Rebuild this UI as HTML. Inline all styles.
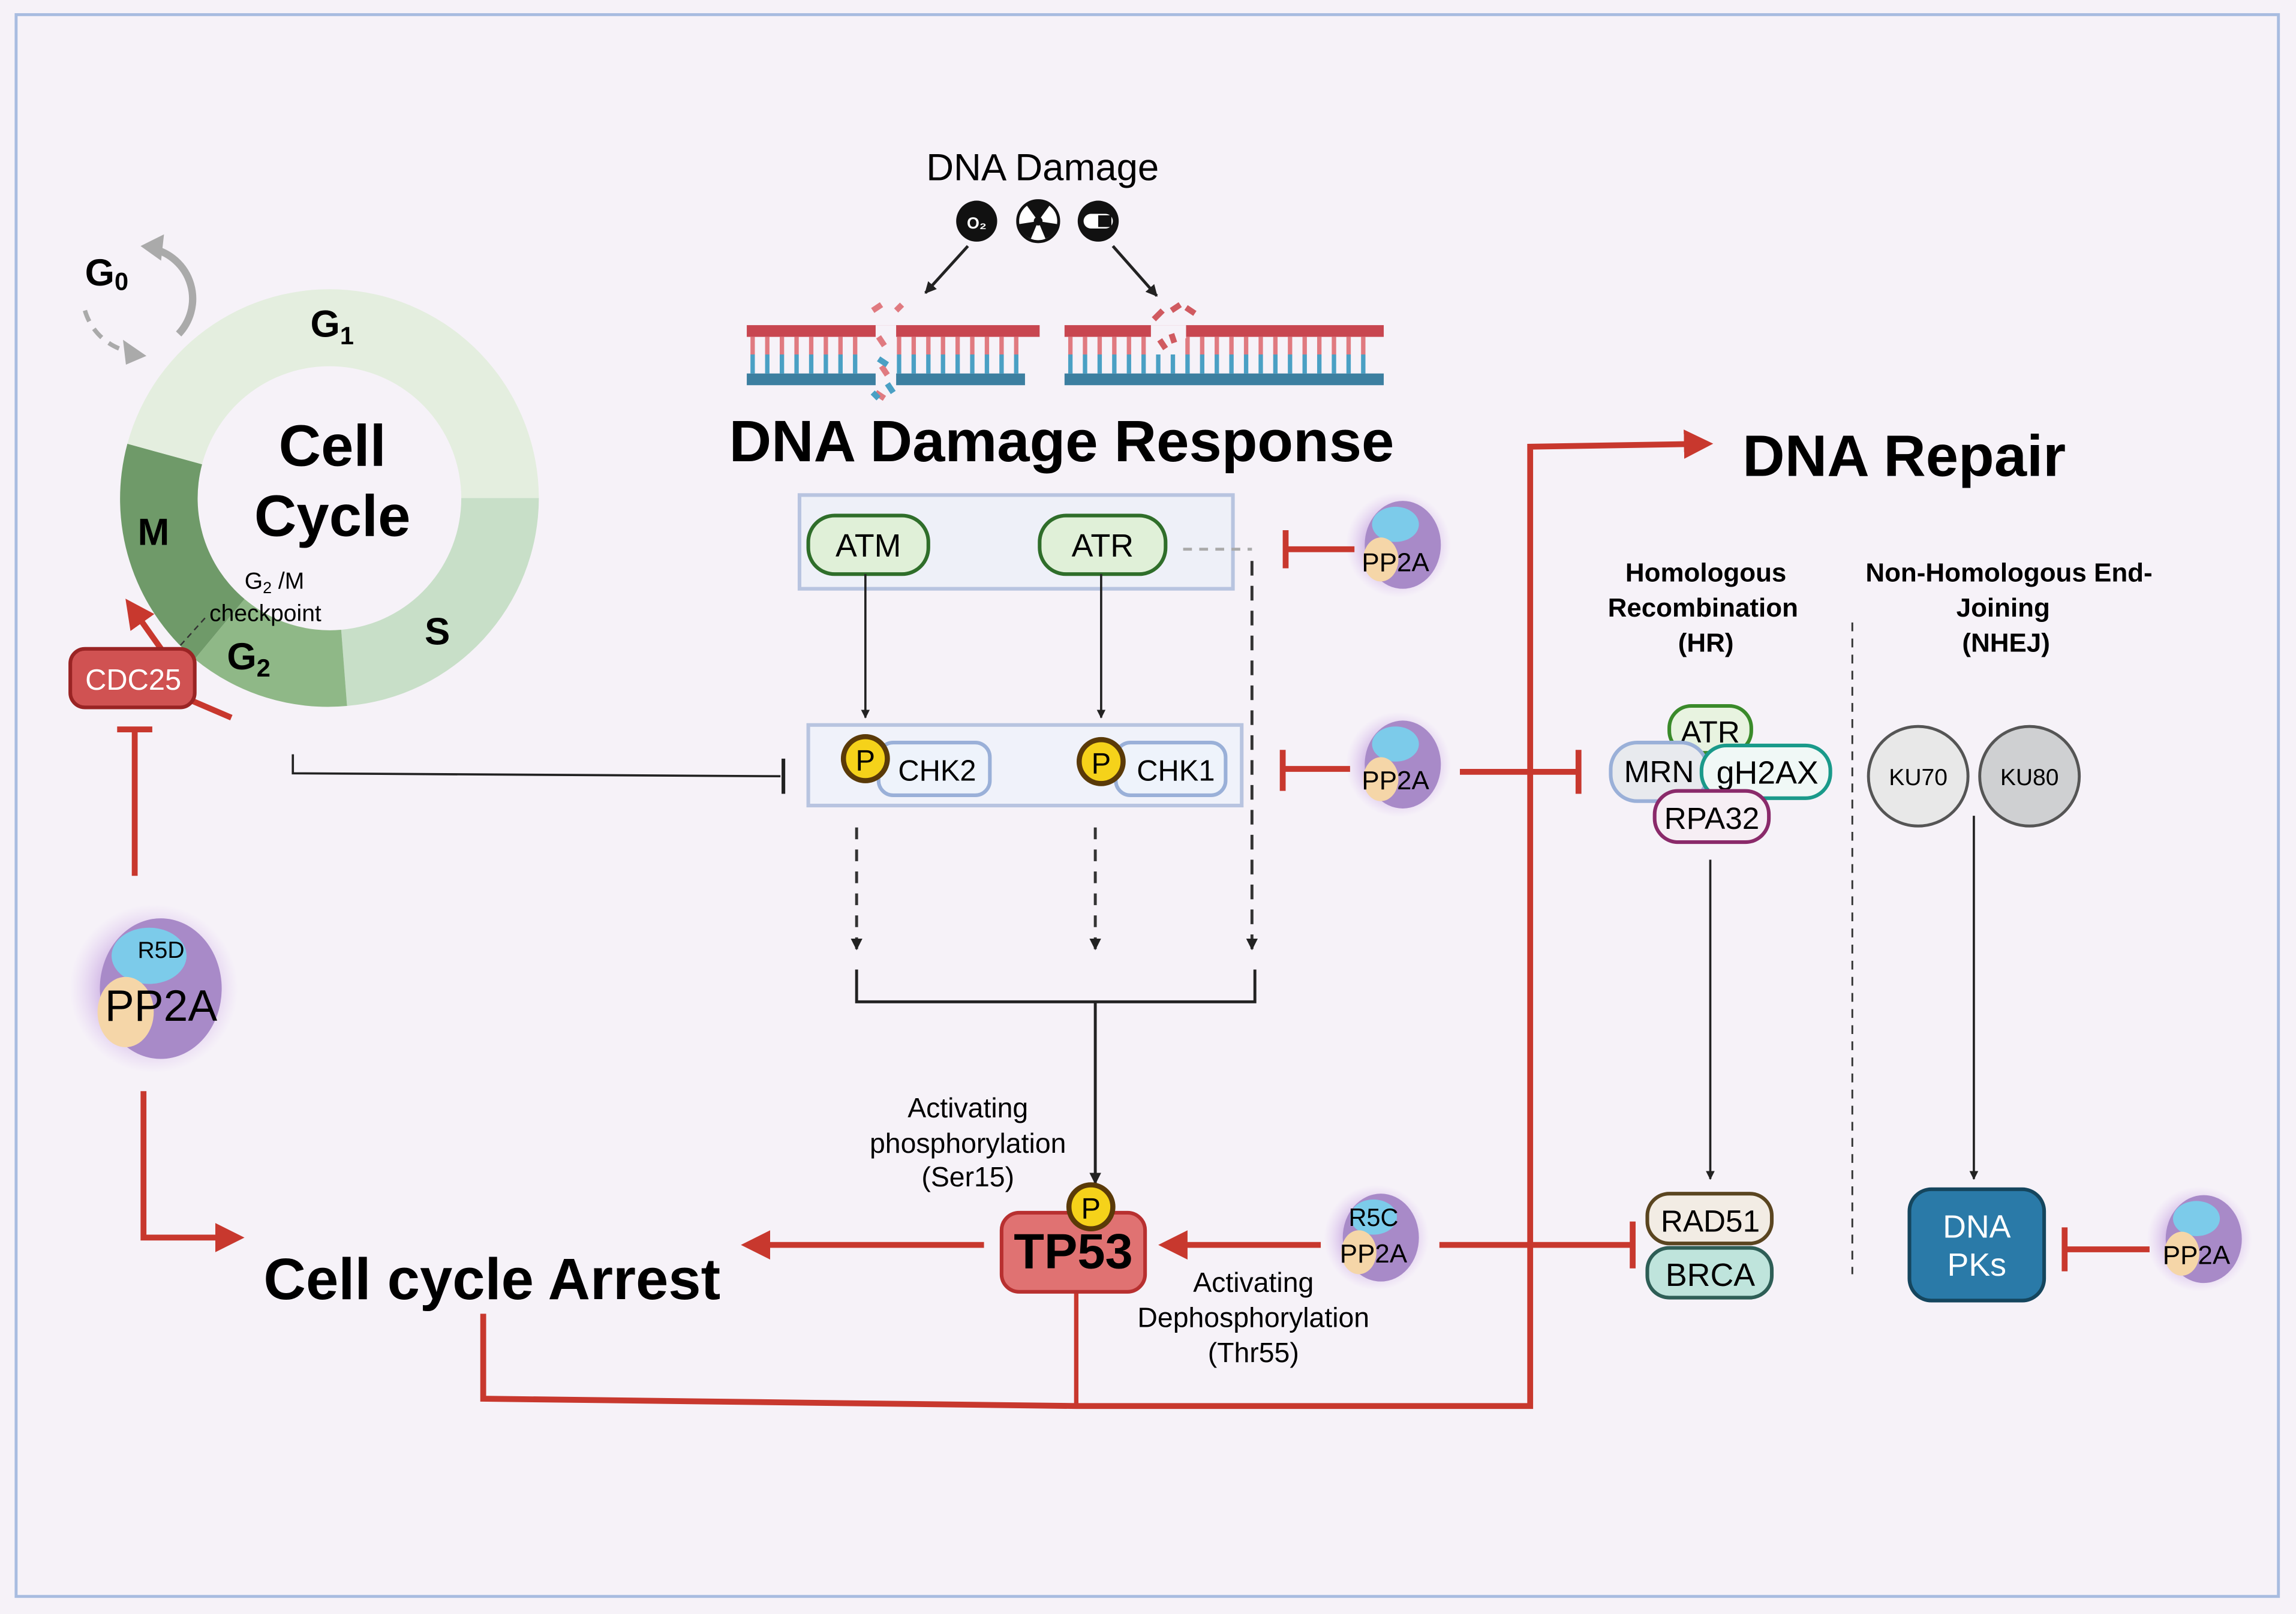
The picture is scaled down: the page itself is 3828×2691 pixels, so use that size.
<!DOCTYPE html>
<html><head><meta charset="utf-8"><style>
html,body{margin:0;padding:0;background:#f6f2f8;}
svg{display:block;}
text{font-family:"Liberation Sans",sans-serif;}
</style></head><body>
<svg xmlns="http://www.w3.org/2000/svg" width="3828" height="2691" viewBox="0 0 1568 1102" preserveAspectRatio="none">
<defs>
<radialGradient id="glow" cx="50%" cy="50%" r="50%">
<stop offset="0.6" stop-color="#b890d8" stop-opacity="0.6"/><stop offset="1" stop-color="#d8b8f0" stop-opacity="0"/></radialGradient>
<marker id="ab" viewBox="0 0 10 10" refX="9" refY="5" markerWidth="4" markerHeight="4" orient="auto"><path d="M0,0L10,5L0,10z" fill="#222"/></marker>
<marker id="ar" viewBox="0 0 10 10" refX="8" refY="5" markerWidth="5" markerHeight="5" orient="auto"><path d="M0,0L10,5L0,10z" fill="#c8382e"/></marker>
<g id="pp">
<circle cx="0" cy="0" r="36" fill="url(#glow)"/>
<ellipse cx="3" cy="0" rx="26" ry="30" fill="#a88ac8"/>
<ellipse cx="-2" cy="-14" rx="16" ry="12" fill="#7ccbea"/>
<ellipse cx="-12" cy="10" rx="12" ry="15" fill="#f5d6a8"/>
</g>
</defs>
<rect x="0" y="0" width="1568" height="1102" fill="#f6f2f8"/>
<rect x="11" y="10" width="1545" height="1080" fill="none" stroke="#a8bce0" stroke-width="2"/>

<path d="M368,340 A143,143 0 0 1 237,482 L233,430 A90,90 0 0 0 315,340 Z" fill="#c8dfc8"/>
<path d="M237,482 A143,143 0 0 1 133,450 L167,409 A90,90 0 0 0 233,430 Z" fill="#8fb887"/>
<path d="M133,450 A143,143 0 0 1 87,303 L138,317 A90,90 0 0 0 167,409 Z" fill="#6f9a69"/>
<path d="M87,303 A143,143 0 0 1 368,340 L315,340 A90,90 0 0 0 138,317 Z" fill="#e4eedf"/>
<text x="227" y="318" font-size="40" font-weight="bold" text-anchor="middle">Cell</text>
<text x="227" y="366" font-size="40" font-weight="bold" text-anchor="middle">Cycle</text>
<text x="212" y="230" font-size="26" font-weight="bold">G<tspan font-size="17" dy="5">1</tspan></text>
<text x="94" y="372" font-size="26" font-weight="bold">M</text>
<text x="290" y="440" font-size="26" font-weight="bold">S</text>
<text x="155" y="457" font-size="26" font-weight="bold">G<tspan font-size="17" dy="5">2</tspan></text>
<text x="58" y="195" font-size="26" font-weight="bold">G<tspan font-size="17" dy="3">0</tspan></text>
<text x="167" y="402" font-size="16">G<tspan font-size="11" dy="3">2</tspan><tspan dy="-3"> /M</tspan></text>
<text x="143" y="424" font-size="16">checkpoint</text>
<path d="M140,422 L122,442" stroke="#333" stroke-width="1" stroke-dasharray="4,3"/>
<path d="M105,170 A35,35 0 0 1 122,228" stroke="#aaa" stroke-width="5" fill="none"/>
<path d="M96,168 L112,160 L110,178 z" fill="#aaa"/>
<path d="M58,212 A40,40 0 0 0 88,240" stroke="#aaa" stroke-width="3" fill="none" stroke-dasharray="8,6"/>
<path d="M84,232 L100,243 L86,249 z" fill="#aaa"/>

<line x1="110" y1="443" x2="88" y2="412" stroke="#c8382e" stroke-width="4" marker-end="url(#ar)"/>
<line x1="130" y1="478" x2="158" y2="490" stroke="#c8382e" stroke-width="4"/>
<rect x="48" y="443" width="85" height="40" rx="10" fill="#d05252" stroke="#9a2424" stroke-width="2.5"/>
<text x="91" y="471" font-size="20" fill="#fff" text-anchor="middle">CDC25</text>
<line x1="92" y1="598" x2="92" y2="498" stroke="#c8382e" stroke-width="4"/>
<line x1="80" y1="498" x2="104" y2="498" stroke="#c8382e" stroke-width="4"/>

<g transform="translate(105,675) scale(1.6)"><use href="#pp"/></g>
<text x="110" y="654" font-size="16" text-anchor="middle">R5D</text>
<text x="110" y="697" font-size="30" text-anchor="middle">PP2A</text>
<path d="M98,745 L98,845 L163,845" stroke="#c8382e" stroke-width="4" fill="none" marker-end="url(#ar)"/>
<text x="180" y="887" font-size="40" font-weight="bold">Cell cycle Arrest</text>

<text x="712" y="123" font-size="26" text-anchor="middle">DNA Damage</text>
<circle cx="667" cy="151" r="14" fill="#111"/><text x="667" y="156" font-size="11" fill="#fff" text-anchor="middle" font-weight="bold">O₂</text>
<circle cx="709" cy="151" r="14" fill="#fff" stroke="#111" stroke-width="2"/><circle cx="709" cy="151" r="3" fill="#111"/>
<path d="M709,151 L701,140 A13,13 0 0 1 717,140Z M709,151 L722,153 A13,13 0 0 1 714,163Z M709,151 L704,163 A13,13 0 0 1 696,153Z" fill="#111"/>
<circle cx="750" cy="151" r="14" fill="#111"/><rect x="740" y="146" width="20" height="10" rx="5" fill="#fff"/><rect x="750" y="147" width="9" height="8" fill="#111"/>
<line x1="661" y1="168" x2="632" y2="200" stroke="#222" stroke-width="2" marker-end="url(#ab)"/>
<line x1="760" y1="168" x2="790" y2="202" stroke="#222" stroke-width="2" marker-end="url(#ab)"/>
<g>
<rect x="510" y="222" width="200" height="8" fill="#c84650"/><rect x="510" y="255" width="190" height="8" fill="#3c7fa0"/>
<path d="M514,230v12 M524,230v12 M534,230v12 M544,230v12 M554,230v12 M564,230v12 M574,230v12 M584,230v12 M614,230v12 M624,230v12 M634,230v12 M644,230v12 M654,230v12 M664,230v12 M674,230v12 M684,230v12 M694,230v12" stroke="#e07a80" stroke-width="3"/>
<path d="M514,242v13 M524,242v13 M534,242v13 M544,242v13 M554,242v13 M564,242v13 M574,242v13 M584,242v13 M614,242v13 M624,242v13 M634,242v13 M644,242v13 M654,242v13 M664,242v13 M674,242v13 M684,242v13 M694,242v13" stroke="#4aa0c4" stroke-width="3"/>
<rect x="598" y="222" width="14" height="42" fill="#f6f2f8"/>
<path d="M596,212 l6,-4 M612,212 l4,-4 M600,230 l4,6 M602,250 l4,6 M598,268 l6,4" stroke="#e07a80" stroke-width="4"/>
<path d="M600,245 l6,4 M606,262 l4,6 M596,268 l4,4" stroke="#4aa0c4" stroke-width="4"/>
<rect x="727" y="222" width="218" height="8" fill="#c84650"/><rect x="727" y="255" width="218" height="8" fill="#3c7fa0"/>
<path d="M731,230v12 M741,230v12 M751,230v12 M761,230v12 M771,230v12 M781,230v12 M811,230v12 M821,230v12 M831,230v12 M841,230v12 M851,230v12 M861,230v12 M871,230v12 M881,230v12 M891,230v12 M901,230v12 M911,230v12 M921,230v12 M931,230v12" stroke="#e07a80" stroke-width="3"/>
<path d="M731,242v13 M741,242v13 M751,242v13 M761,242v13 M771,242v13 M781,242v13 M791,242v13 M801,242v13 M811,242v13 M821,242v13 M831,242v13 M841,242v13 M851,242v13 M861,242v13 M871,242v13 M881,242v13 M891,242v13 M901,242v13 M911,242v13 M921,242v13 M931,242v13" stroke="#4aa0c4" stroke-width="3"/>
<rect x="786" y="222" width="24" height="9" fill="#f6f2f8"/>
<path d="M788,218 l6,-6 M800,212 l6,-4 M810,210 l6,4 M792,232 l4,6 M800,228 l2,6" stroke="#d05a60" stroke-width="4"/>
</g>
<text x="725" y="315" font-size="40" font-weight="bold" text-anchor="middle">DNA Damage Response</text>

<rect x="546" y="338" width="296" height="64" fill="#eef0f8" stroke="#b8c4e0" stroke-width="2.5"/>
<rect x="552" y="352" width="82" height="40" rx="18" fill="#e0f0d8" stroke="#2f6e2a" stroke-width="2.5"/>
<text x="593" y="380" font-size="22" text-anchor="middle">ATM</text>
<rect x="710" y="352" width="86" height="40" rx="18" fill="#e0f0d8" stroke="#2f6e2a" stroke-width="2.5"/>
<text x="753" y="380" font-size="22" text-anchor="middle">ATR</text>
<line x1="808" y1="375" x2="855" y2="375" stroke="#aaa" stroke-width="2" stroke-dasharray="6,5"/>
<line x1="855" y1="383" x2="855" y2="648" stroke="#333" stroke-width="2" stroke-dasharray="10,7" marker-end="url(#ab)"/>
<line x1="591" y1="392" x2="591" y2="490" stroke="#222" stroke-width="1.5" marker-end="url(#ab)"/>
<line x1="752" y1="392" x2="752" y2="490" stroke="#222" stroke-width="1.5" marker-end="url(#ab)"/>

<g transform="translate(955,372)"><use href="#pp"/></g><text x="953" y="390" font-size="18" text-anchor="middle">PP2A</text>
<line x1="878" y1="375" x2="925" y2="375" stroke="#c8382e" stroke-width="4"/><line x1="878" y1="362" x2="878" y2="388" stroke="#c8382e" stroke-width="4"/>

<rect x="552" y="495" width="296" height="55" fill="#f0f2fa" stroke="#b8c4e0" stroke-width="2.5"/>
<rect x="600" y="507" width="76" height="36" rx="10" fill="#eef3fb" stroke="#9ab0d8" stroke-width="2.5"/>
<text x="640" y="533" font-size="20" text-anchor="middle">CHK2</text>
<circle cx="591" cy="518" r="15" fill="#f5d21a" stroke="#5a3a08" stroke-width="3.5"/><text x="591" y="526" font-size="20" text-anchor="middle">P</text>
<rect x="762" y="507" width="75" height="36" rx="10" fill="#eef3fb" stroke="#9ab0d8" stroke-width="2.5"/>
<text x="803" y="533" font-size="20" text-anchor="middle">CHK1</text>
<circle cx="752" cy="520" r="15" fill="#f5d21a" stroke="#5a3a08" stroke-width="3.5"/><text x="752" y="528" font-size="20" text-anchor="middle">P</text>
<path d="M200,515 L200,528 L533,530" stroke="#222" stroke-width="1.5" fill="none"/><line x1="535" y1="518" x2="535" y2="542" stroke="#222" stroke-width="2.5"/>
<g transform="translate(955,522)"><use href="#pp"/></g><text x="953" y="539" font-size="18" text-anchor="middle">PP2A</text>
<line x1="876" y1="525" x2="922" y2="525" stroke="#c8382e" stroke-width="4"/><line x1="876" y1="512" x2="876" y2="540" stroke="#c8382e" stroke-width="4"/>
<line x1="997" y1="527" x2="1078" y2="527" stroke="#c8382e" stroke-width="4"/><line x1="1078" y1="512" x2="1078" y2="542" stroke="#c8382e" stroke-width="4"/>

<line x1="585" y1="565" x2="585" y2="648" stroke="#333" stroke-width="2" stroke-dasharray="8,7" marker-end="url(#ab)"/>
<line x1="748" y1="565" x2="748" y2="648" stroke="#333" stroke-width="2" stroke-dasharray="8,7" marker-end="url(#ab)"/>
<path d="M585,662 L585,684 L857,684 L857,662" stroke="#222" stroke-width="2" fill="none"/>
<line x1="748" y1="684" x2="748" y2="808" stroke="#222" stroke-width="2" marker-end="url(#ab)"/>
<text x="661" y="763" font-size="19" text-anchor="middle">Activating</text>
<text x="661" y="787" font-size="19" text-anchor="middle">phosphorylation</text>
<text x="661" y="810" font-size="19" text-anchor="middle">(Ser15)</text>

<path d="M330,897 L330,955 L735,960 L1045,960 L1045,305 L1166,303" stroke="#c8382e" stroke-width="4" fill="none" marker-end="url(#ar)"/>
<line x1="735" y1="882" x2="735" y2="960" stroke="#c8382e" stroke-width="3"/>
<line x1="672" y1="850" x2="510" y2="850" stroke="#c8382e" stroke-width="4" marker-end="url(#ar)"/>
<line x1="902" y1="850" x2="795" y2="850" stroke="#c8382e" stroke-width="4" marker-end="url(#ar)"/>

<rect x="684" y="828" width="98" height="54" rx="12" fill="#e07272" stroke="#b83030" stroke-width="2.5"/>
<text x="733" y="866" font-size="34" font-weight="bold" text-anchor="middle">TP53</text>
<circle cx="745" cy="824" r="15" fill="#f5d21a" stroke="#5a3a08" stroke-width="3.5"/><text x="745" y="832" font-size="20" text-anchor="middle">P</text>

<g transform="translate(940,845)"><use href="#pp"/></g>
<text x="938" y="837" font-size="17" text-anchor="middle">R5C</text><text x="938" y="862" font-size="18" text-anchor="middle">PP2A</text>
<line x1="983" y1="850" x2="1115" y2="850" stroke="#c8382e" stroke-width="4"/><line x1="1115" y1="834" x2="1115" y2="866" stroke="#c8382e" stroke-width="4"/>
<text x="856" y="882" font-size="19" text-anchor="middle">Activating</text>
<text x="856" y="906" font-size="19" text-anchor="middle">Dephosphorylation</text>
<text x="856" y="930" font-size="19" text-anchor="middle">(Thr55)</text>

<text x="1190" y="325" font-size="40" font-weight="bold">DNA Repair</text>
<text x="1165" y="397" font-size="18" font-weight="bold" text-anchor="middle">Homologous</text>
<text x="1163" y="421" font-size="18" font-weight="bold" text-anchor="middle">Recombination</text>
<text x="1165" y="445" font-size="18" font-weight="bold" text-anchor="middle">(HR)</text>
<text x="1372" y="397" font-size="18" font-weight="bold" text-anchor="middle">Non-Homologous End-</text>
<text x="1368" y="421" font-size="18" font-weight="bold" text-anchor="middle">Joining</text>
<text x="1370" y="445" font-size="18" font-weight="bold" text-anchor="middle">(NHEJ)</text>
<line x1="1265" y1="425" x2="1265" y2="870" stroke="#333" stroke-width="1.2" stroke-dasharray="6,5"/>

<rect x="1140" y="482" width="56" height="32" rx="15" fill="#e8f3e0" stroke="#3a8a2a" stroke-width="2.5"/>
<text x="1168" y="507" font-size="21" text-anchor="middle">ATR</text>
<rect x="1100" y="507" width="66" height="40" rx="18" fill="#e8eaee" stroke="#9ab0d8" stroke-width="2.5"/>
<text x="1133" y="534" font-size="21" text-anchor="middle">MRN</text>
<rect x="1162" y="509" width="88" height="36" rx="17" fill="#f0f8f6" stroke="#1a9a8a" stroke-width="2.5"/>
<text x="1207" y="535" font-size="22" text-anchor="middle">gH2AX</text>
<rect x="1130" y="540" width="78" height="35" rx="16" fill="#f6eef4" stroke="#8a2a6a" stroke-width="2.5"/>
<text x="1169" y="566" font-size="21" text-anchor="middle">RPA32</text>
<line x1="1168" y1="587" x2="1168" y2="805" stroke="#222" stroke-width="1.5" marker-end="url(#ab)"/>
<rect x="1125" y="815" width="85" height="34" rx="15" fill="#f2ece4" stroke="#5a4520" stroke-width="2.5"/>
<text x="1168" y="841" font-size="21" text-anchor="middle">RAD51</text>
<rect x="1125" y="852" width="85" height="34" rx="15" fill="#bfe4dc" stroke="#2e5e56" stroke-width="2.5"/>
<text x="1168" y="878" font-size="22" text-anchor="middle">BRCA</text>

<circle cx="1310" cy="530" r="34" fill="#e8e8e8" stroke="#555" stroke-width="2"/><text x="1310" y="536" font-size="16" text-anchor="middle">KU70</text>
<circle cx="1386" cy="530" r="34" fill="#cfd0d2" stroke="#555" stroke-width="2"/><text x="1386" y="536" font-size="16" text-anchor="middle">KU80</text>
<line x1="1348" y1="557" x2="1348" y2="805" stroke="#222" stroke-width="1.5" marker-end="url(#ab)"/>
<rect x="1304" y="812" width="92" height="76" rx="15" fill="#2a7aa8" stroke="#15465e" stroke-width="2.5"/>
<text x="1350" y="845" font-size="22" fill="#fff" text-anchor="middle">DNA</text>
<text x="1350" y="871" font-size="22" fill="#fff" text-anchor="middle">PKs</text>
<g transform="translate(1502,846)"><use href="#pp"/></g><text x="1500" y="863" font-size="18" text-anchor="middle">PP2A</text>
<line x1="1410" y1="853" x2="1468" y2="853" stroke="#c8382e" stroke-width="4"/><line x1="1410" y1="838" x2="1410" y2="868" stroke="#c8382e" stroke-width="4"/>
</svg>
</body></html>
